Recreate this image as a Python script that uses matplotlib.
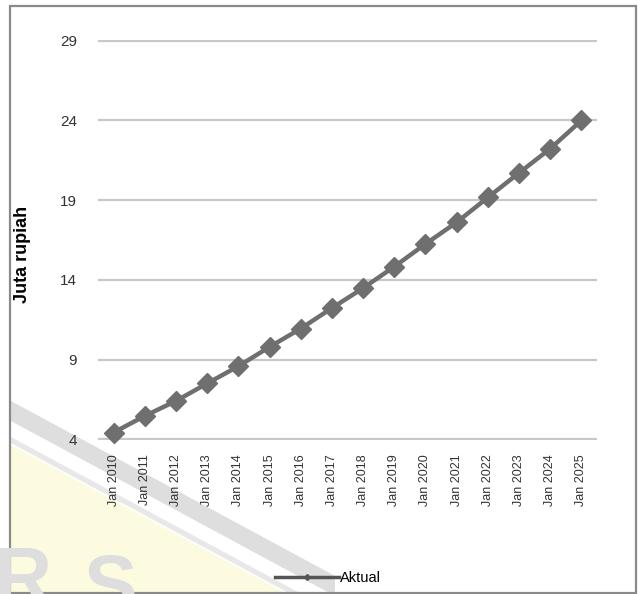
import matplotlib
matplotlib.use("Agg")
import matplotlib.pyplot as plt
from matplotlib.lines import Line2D
from matplotlib.patches import Polygon, Rectangle

plt.rcParams["font.family"] = ["Liberation Sans", "DejaVu Sans"]

# data
years = list(range(2010, 2026))
labels = [f"Jan {y}" for y in years]
aktual = [4.42, 5.46, 6.40, 7.50, 8.58, 9.79, 10.94, 12.23,
          13.48, 14.83, 16.25, 17.61, 19.17, 20.71, 22.23, 24.00]
yticks = [4, 9, 14, 19, 24, 29]

W, H = 638, 594
fig = plt.figure(figsize=(W / 100, H / 100), dpi=100)

# background layer in pixel units (logo watermark + outer border)
bg = fig.add_axes([0, 0, 1, 1], zorder=-5)
bg.set_xlim(0, W)
bg.set_ylim(H, 0)
bg.axis("off")

def band(y0, y1, x0=11, x1=335, k=0.54):
    return [(x0, y0), (x1, y0 + k * (x1 - x0)), (x1, y1 + k * (x1 - x0)), (x0, y1)]

bg.add_patch(Polygon([(11, 445), (287, 594), (11, 594)], closed=True,
                     facecolor="#fdfbdf", edgecolor="none"))
bg.add_patch(Polygon(band(401, 421), closed=True, facecolor="#dedede", edgecolor="none"))
bg.add_patch(Polygon(band(437, 443), closed=True, facecolor="#e8e8e8", edgecolor="none"))
bg.text(-6, 604, "R", fontsize=58, fontweight="bold", color="#dedede", ha="left", va="baseline")
bg.text(84, 612, "S", fontsize=58, fontweight="bold", color="#dedede", ha="left", va="baseline")
bg.add_patch(Rectangle((10, 6), 626, 587, facecolor="none", edgecolor="#8a8a8a", lw=1.6))

ax = fig.add_axes([98 / W, 1 - 440 / H, 499 / W, 400 / H])
ax.set_facecolor("none")

x = list(range(len(labels)))
ax.plot(x, aktual, color="#6f6f6f", lw=3.2, marker="D", markersize=10.5,
        markerfacecolor="#6f6f6f", markeredgecolor="#6f6f6f", clip_on=False, zorder=3)

ax.set_xlim(-0.5, len(labels) - 0.5)
ax.set_ylim(3.95, 29.05)
ax.set_yticks(yticks)
ax.set_xticks(x)
ax.set_xticklabels(labels, rotation=90, fontsize=9, color="#333333")
ax.tick_params(axis="y", length=0, pad=15, labelsize=11, labelcolor="#333333")
ax.tick_params(axis="x", length=0, pad=10)
ax.yaxis.grid(True, color="#c8c8c8", lw=1.6)
ax.set_axisbelow(True)
for s in ax.spines.values():
    s.set_visible(False)

ax.set_ylabel("Juta rupiah", fontsize=13, fontweight="bold")
ax.yaxis.set_label_coords(-0.135, 0.465)

handle = Line2D([], [], color="#555555", lw=2.5, marker="D", markersize=3)
fig.legend([handle], ["Aktual"], loc="center", bbox_to_anchor=(328 / W, 1 - 578 / H),
           frameon=False, fontsize=10.5, handlelength=4.4, handletextpad=0.1)

fig.savefig("out.png", dpi=100)
